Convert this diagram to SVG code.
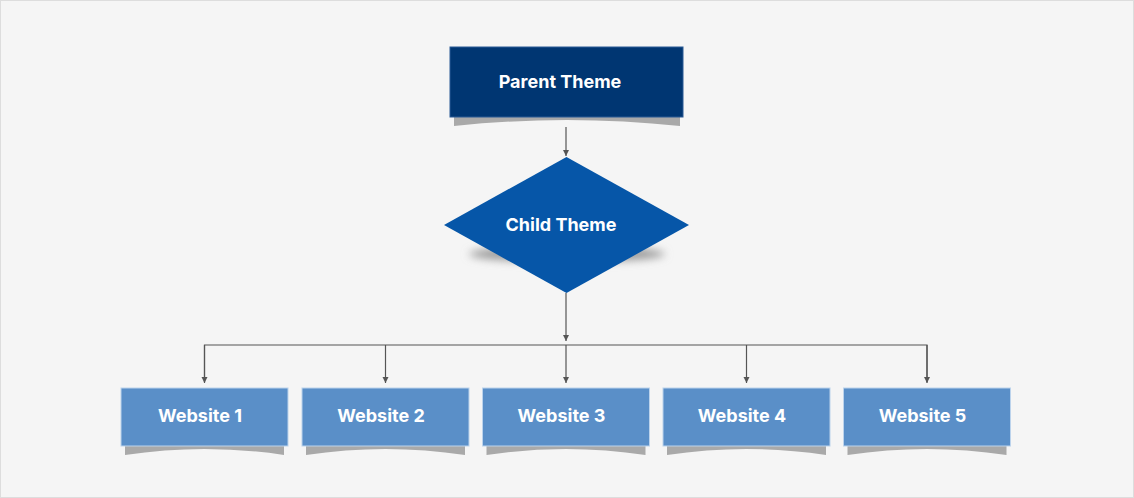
<svg xmlns="http://www.w3.org/2000/svg" width="1134" height="498" viewBox="0 0 1134 498">
<style>
.lbl{font-family:"Inter","Open Sans",sans-serif;font-weight:700;font-size:18px;fill:#ffffff;text-anchor:middle;dominant-baseline:central}
.conn{stroke:#555555;stroke-width:1.2;fill:none}
.shadow{fill:#a9a9a9}
.site{fill:#5a8fc8;stroke:#bcd3ec;stroke-width:1}
</style>
<defs>
<marker id="arr" markerWidth="8" markerHeight="8" refX="7" refY="4" orient="auto" markerUnits="userSpaceOnUse" viewBox="0 0 8 8">
<path d="M1,1 L7,4 L1,7 Z" fill="#555555"/>
</marker>
<filter id="blur" x="-20%" y="-100%" width="140%" height="300%"><feGaussianBlur stdDeviation="4"/></filter>
</defs>
<rect x="0.5" y="0.5" width="1133" height="497" fill="#f5f5f5" stroke="#dddddd" stroke-width="1"/>
<g id="connectors">
<line class="conn" x1="566" y1="127" x2="566" y2="156" marker-end="url(#arr)"/>
<line class="conn" x1="566" y1="293" x2="566" y2="341" marker-end="url(#arr)"/>
<path class="conn" d="M204.5,382 V345 H927 V382"/>
<line class="conn" x1="204.5" y1="345" x2="204.5" y2="383" marker-end="url(#arr)"/>
<line class="conn" x1="385.5" y1="345" x2="385.5" y2="383" marker-end="url(#arr)"/>
<line class="conn" x1="566" y1="345" x2="566" y2="383" marker-end="url(#arr)"/>
<line class="conn" x1="746.5" y1="345" x2="746.5" y2="383" marker-end="url(#arr)"/>
<line class="conn" x1="927" y1="345" x2="927" y2="383" marker-end="url(#arr)"/>
</g>
<g id="parent-theme">
<path class="shadow" d="M454,117 H680 V126 Q567,114 454,126 Z"/>
<rect x="450" y="47" width="233" height="70" fill="#003672" stroke="#2a5a95" stroke-width="1"/>
<text class="lbl" x="560" y="81">Parent Theme</text>
</g>
<g id="child-theme">
<ellipse cx="567" cy="254" rx="98" ry="8" fill="#9a9a9a" filter="url(#blur)"/>
<polygon points="566.5,157 689,225 566.5,293 444,225" fill="#0656a8"/>
<text class="lbl" x="561" y="224">Child Theme</text>
</g>
<g id="website-1">
<path class="shadow" d="M125,446 H284 V455 Q204.5,443 125,455 Z"/>
<rect class="site" x="121" y="388" width="167" height="58"/>
<text class="lbl" x="200" y="415">Website 1</text>
</g>
<g id="website-2">
<path class="shadow" d="M306,446 H465 V455 Q385.5,443 306,455 Z"/>
<rect class="site" x="302" y="388" width="167" height="58"/>
<text class="lbl" x="381" y="415">Website 2</text>
</g>
<g id="website-3">
<path class="shadow" d="M486.5,446 H645.5 V455 Q566,443 486.5,455 Z"/>
<rect class="site" x="482.5" y="388" width="167" height="58"/>
<text class="lbl" x="561.5" y="415">Website 3</text>
</g>
<g id="website-4">
<path class="shadow" d="M667,446 H826 V455 Q746.5,443 667,455 Z"/>
<rect class="site" x="663" y="388" width="167" height="58"/>
<text class="lbl" x="742" y="415">Website 4</text>
</g>
<g id="website-5">
<path class="shadow" d="M847.5,446 H1006.5 V455 Q927,443 847.5,455 Z"/>
<rect class="site" x="843.5" y="388" width="167" height="58"/>
<text class="lbl" x="922.5" y="415">Website 5</text>
</g>
</svg>
